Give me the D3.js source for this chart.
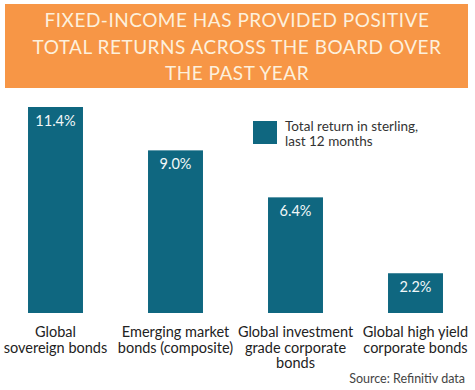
<!DOCTYPE html>
<html>
<head>
<meta charset="utf-8">
<script src="https://cdn.jsdelivr.net/npm/d3@7"></script>
<style>
  body { margin: 0; background: #fff; }
  svg { display: block; font-family: Lato, "Open Sans", sans-serif; }
</style>
</head>
<body>
<div id="chart"></div>
<script>
const titleLines = ["FIXED-INCOME HAS PROVIDED POSITIVE", "TOTAL RETURNS ACROSS THE BOARD OVER", "THE PAST YEAR"];
const categories = [
    ["Global", "sovereign bonds"],
    ["Emerging market", "bonds (composite)"],
    ["Global investment", "grade corporate", "bonds"],
    ["Global high yield", "corporate bonds"]
];
const values = [11.4, 9.0, 6.4, 2.2];
const legendLines = ["Total return in sterling,", "last 12 months"];
const source = "Source: Refinitiv data";

const width = 475, height = 390;
const barColor = "#0f6780";

const svg = d3.select("#chart")
    .append("svg")
    .attr("width", width)
    .attr("height", height);

// Title banner
svg.append("rect")
    .attr("x", 5).attr("y", 4)
    .attr("width", 463).attr("height", 84)
    .style("fill", "#f79646");

svg.selectAll(".title")
    .data(titleLines)
    .enter().append("text")
    .attr("class", "title")
    .attr("x", 237)
    .attr("y", (d, i) => 27 + i * 26.5)
    .attr("text-anchor", "middle")
    .style("font-size", "19px")
    .style("letter-spacing", "0.5px")
    .style("fill", "#fdf0dc")
    .text(d => d);

// Scales
const x = d3.scaleBand()
    .domain(d3.range(values.length))
    .range([-4.5, 475.5])
    .paddingInner(0.542)
    .paddingOuter(0.271);

const y = d3.scaleLinear()
    .domain([0, 11.4])
    .range([313, 107]);

// Bars
svg.selectAll(".bar")
    .data(values)
    .enter().append("rect")
    .attr("class", "bar")
    .attr("x", (d, i) => x(i))
    .attr("y", d => y(d))
    .attr("width", x.bandwidth())
    .attr("height", d => y(0) - y(d))
    .style("fill", barColor);

svg.selectAll(".value-label")
    .data(values)
    .enter().append("text")
    .attr("class", "value-label")
    .attr("x", (d, i) => x(i) + x.bandwidth() / 2)
    .attr("y", d => y(d) + 19)
    .attr("text-anchor", "middle")
    .style("font-size", "14.5px")
    .style("fill", "#f2f7f8")
    .text(d => d.toFixed(1) + "%");

// Category labels
const cat = svg.selectAll(".cat-label")
    .data(categories)
    .enter().append("text")
    .attr("class", "cat-label")
    .attr("text-anchor", "middle")
    .style("font-size", "14.5px")
    .style("fill", "#222");

cat.selectAll("tspan")
    .data((d, i) => d.map(t => ({ t: t, i: i })))
    .enter().append("tspan")
    .attr("x", d => x(d.i) + x.bandwidth() / 2)
    .attr("y", (d, j) => 337 + j * 15.5)
    .text(d => d.t);

// Legend
svg.append("rect")
    .attr("x", 253).attr("y", 121)
    .attr("width", 24).attr("height", 23)
    .style("fill", barColor);

svg.selectAll(".legend-label")
    .data(legendLines)
    .enter().append("text")
    .attr("class", "legend-label")
    .attr("x", 285)
    .attr("y", (d, i) => 130.5 + i * 15.5)
    .style("font-size", "13.5px")
    .style("fill", "#333")
    .text(d => d);

// Source
svg.append("text")
    .attr("x", 465)
    .attr("y", 383)
    .attr("text-anchor", "end")
    .style("font-size", "12.5px")
    .style("fill", "#444")
    .text(source);
</script>
</body>
</html>
